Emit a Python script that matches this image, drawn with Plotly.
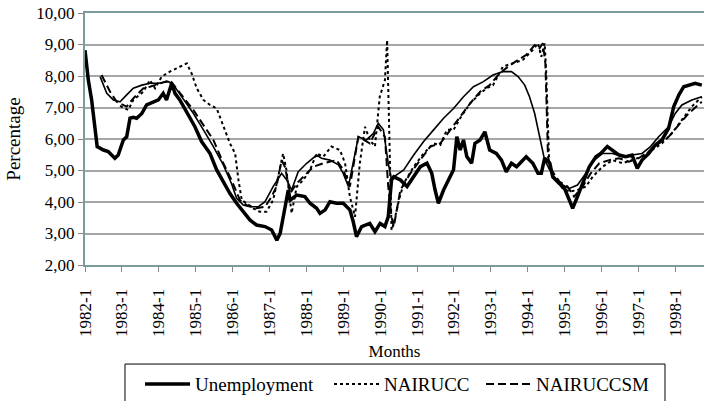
import plotly.graph_objects as go

# ---- data (x in decimal years, values in percent) ----
unemp_x = [1982.00, 1982.09, 1982.18, 1982.27, 1982.33, 1982.50, 1982.63, 1982.81, 1982.90, 1983.04,
           1983.13, 1983.22, 1983.31, 1983.40, 1983.54, 1983.67, 1983.85, 1983.99, 1984.12, 1984.21,
           1984.35, 1984.44, 1984.57, 1984.75, 1984.98, 1985.16, 1985.39, 1985.57, 1985.75, 1985.93,
           1986.11, 1986.29, 1986.47, 1986.65, 1986.88, 1987.06, 1987.20, 1987.29, 1987.38, 1987.51,
           1987.56, 1987.74, 1987.96, 1988.10, 1988.28, 1988.37, 1988.51, 1988.64, 1988.82, 1989.00,
           1989.18, 1989.27, 1989.36, 1989.50, 1989.72, 1989.86, 1990.00, 1990.13, 1990.22, 1990.31,
           1990.37, 1990.55, 1990.73, 1990.91, 1991.09, 1991.27, 1991.40, 1991.49, 1991.58, 1991.72,
           1991.90, 1991.99, 1992.08, 1992.17, 1992.26, 1992.35, 1992.48, 1992.57, 1992.71, 1992.84,
           1992.97, 1993.15, 1993.29, 1993.42, 1993.56, 1993.70, 1993.83, 1993.96, 1994.14, 1994.28,
           1994.37, 1994.46, 1994.60, 1994.68, 1994.86, 1995.00, 1995.13, 1995.22, 1995.35, 1995.49,
           1995.67, 1995.85, 1995.98, 1996.16, 1996.30, 1996.48, 1996.66, 1996.83, 1996.97, 1997.10,
           1997.28, 1997.46, 1997.64, 1997.82, 1997.96, 1998.10, 1998.23, 1998.40, 1998.54, 1998.72]
unemp_y = [8.82, 7.87, 7.24, 6.29, 5.76, 5.65, 5.60, 5.39, 5.49, 5.97,
           6.07, 6.66, 6.69, 6.66, 6.81, 7.08, 7.18, 7.24, 7.45, 7.24,
           7.77, 7.45, 7.24, 6.87, 6.39, 5.92, 5.54, 5.02, 4.65, 4.27,
           3.96, 3.69, 3.43, 3.27, 3.22, 3.11, 2.79, 3.00, 3.53, 4.38,
           4.06, 4.22, 4.17, 3.96, 3.80, 3.64, 3.75, 4.01, 3.96, 3.96,
           3.75, 3.38, 2.90, 3.22, 3.32, 3.06, 3.32, 3.22, 3.53, 4.70,
           4.80, 4.70, 4.49, 4.80, 5.12, 5.23, 4.91, 4.38, 3.96, 4.38,
           4.80, 5.02, 6.07, 5.65, 5.97, 5.44, 5.23, 5.86, 5.97, 6.23,
           5.65, 5.54, 5.33, 4.96, 5.23, 5.12, 5.28, 5.44, 5.23, 4.91,
           4.91, 5.39, 5.23, 4.80, 4.59, 4.43, 4.06, 3.80, 4.17, 4.59,
           5.12, 5.44, 5.54, 5.76, 5.65, 5.49, 5.44, 5.49, 5.07, 5.33,
           5.54, 5.81, 5.97, 6.34, 7.03, 7.40, 7.66, 7.71, 7.77, 7.71]

trend_x = [1982.41, 1982.59, 1982.77, 1982.95, 1983.13, 1983.31, 1983.54, 1983.76, 1983.99, 1984.26,
           1984.40, 1984.66, 1984.94, 1985.21, 1985.48, 1985.75, 1985.97, 1986.11, 1986.29, 1986.47,
           1986.70, 1986.88, 1987.10, 1987.33, 1987.47, 1987.60, 1987.78, 1988.01, 1988.28, 1988.41,
           1988.64, 1988.87, 1989.00, 1989.14, 1989.27, 1989.41, 1989.63, 1989.82, 1989.95, 1990.09,
           1990.22, 1990.31, 1990.37, 1990.64, 1990.91, 1991.18, 1991.45, 1991.72, 1991.99, 1992.26,
           1992.53, 1992.80, 1993.06, 1993.33, 1993.56, 1993.74, 1993.92, 1994.05, 1994.19, 1994.28,
           1994.37, 1994.46, 1994.60, 1994.77, 1994.95, 1995.13, 1995.35, 1995.58, 1995.76, 1996.03,
           1996.30, 1996.57, 1996.83, 1997.10, 1997.33, 1997.55, 1997.82, 1998.00, 1998.18, 1998.45,
           1998.72]
trend_y = [7.98, 7.45, 7.24, 7.18, 7.40, 7.61, 7.71, 7.77, 7.77, 7.82,
           7.71, 7.29, 6.81, 6.29, 5.76, 5.18, 4.59, 4.12, 3.90, 3.85,
           3.85, 4.01, 4.49, 4.91, 4.70, 4.38, 4.96, 5.23, 5.49, 5.39,
           5.33, 5.18, 4.91, 4.49, 5.23, 6.07, 5.97, 6.18, 6.50, 6.29,
           5.23, 4.70, 4.80, 5.02, 5.49, 5.92, 6.29, 6.66, 6.97, 7.34,
           7.66, 7.82, 8.03, 8.14, 8.14, 7.98, 7.71, 7.34, 6.81, 6.29,
           5.76, 5.33, 5.02, 4.70, 4.54, 4.43, 4.54, 4.91, 5.28, 5.54,
           5.54, 5.44, 5.49, 5.54, 5.76, 6.07, 6.39, 6.81, 7.08, 7.24,
           7.34]

nairucc_x = [1982.95, 1983.17, 1983.31, 1983.58, 1983.76, 1983.90, 1984.08, 1984.30, 1984.48, 1984.76,
             1984.89, 1985.03, 1985.21, 1985.39, 1985.57, 1985.66, 1985.79, 1985.93, 1986.07, 1986.16,
             1986.25, 1986.38, 1986.56, 1986.74, 1986.92, 1987.10, 1987.28, 1987.37, 1987.46, 1987.60,
             1987.74, 1987.92, 1988.10, 1988.28, 1988.46, 1988.68, 1988.91, 1989.05, 1989.18, 1989.32,
             1989.45, 1989.59, 1989.72, 1989.86, 1989.99, 1990.13, 1990.19, 1990.27, 1990.31, 1990.37,
             1990.51, 1990.64, 1990.91, 1991.18, 1991.45, 1991.63, 1991.81, 1991.99, 1992.17, 1992.44,
             1992.71, 1992.89, 1993.06, 1993.33, 1993.60, 1993.87, 1994.14, 1994.28, 1994.37, 1994.46,
             1994.50, 1994.55, 1994.59, 1994.77, 1994.95, 1995.13, 1995.35, 1995.58, 1995.76, 1996.03,
             1996.30, 1996.57, 1996.83, 1997.10, 1997.37, 1997.64, 1997.91, 1998.18, 1998.45, 1998.72]
nairucc_y = [7.05, 6.92, 7.24, 7.50, 7.87, 7.61, 7.98, 8.14, 8.24, 8.40,
             8.08, 7.61, 7.24, 7.08, 6.97, 6.71, 6.29, 5.86, 5.54, 4.70,
             4.06, 3.96, 3.80, 3.69, 3.69, 4.06, 5.02, 5.54, 5.02, 3.64,
             4.49, 4.70, 5.02, 5.54, 5.44, 5.76, 5.65, 5.23, 4.17, 3.53,
             5.23, 6.39, 5.97, 5.76, 7.34, 7.87, 9.14, 5.23, 3.11, 3.32,
             4.06, 4.59, 5.12, 5.54, 5.86, 5.81, 6.29, 6.29, 6.66, 7.13,
             7.45, 7.61, 7.71, 8.30, 8.40, 8.51, 8.83, 9.04, 8.61, 9.04,
             8.19, 6.29, 5.02, 4.70, 4.43, 4.33, 4.38, 4.49, 4.80, 5.12,
             5.33, 5.23, 5.33, 5.44, 5.65, 5.86, 6.18, 6.60, 7.03, 7.34]

nairuccsm_x = [1982.45, 1982.68, 1982.86, 1983.13, 1983.31, 1983.58, 1983.76, 1984.03, 1984.30, 1984.44,
               1984.66, 1984.94, 1985.21, 1985.48, 1985.75, 1985.97, 1986.20, 1986.38, 1986.65, 1986.88,
               1987.06, 1987.19, 1987.33, 1987.42, 1987.56, 1987.74, 1987.92, 1988.19, 1988.46, 1988.82,
               1989.00, 1989.18, 1989.41, 1989.72, 1989.95, 1990.13, 1990.22, 1990.31, 1990.37, 1990.55,
               1990.82, 1991.09, 1991.36, 1991.63, 1991.90, 1992.17, 1992.44, 1992.71, 1992.97, 1993.24,
               1993.47, 1993.74, 1993.96, 1994.19, 1994.32, 1994.41, 1994.48, 1994.52, 1994.55, 1994.64,
               1994.86, 1995.08, 1995.26, 1995.49, 1995.71, 1995.94, 1996.21, 1996.48, 1996.75, 1997.01,
               1997.28, 1997.55, 1997.82, 1998.09, 1998.36, 1998.72]
nairuccsm_y = [8.03, 7.50, 7.18, 7.03, 7.29, 7.61, 7.66, 7.77, 7.87, 7.66,
               7.34, 6.92, 6.44, 5.97, 5.23, 4.70, 4.06, 3.90, 3.80, 3.85,
               4.17, 4.49, 5.33, 5.12, 4.27, 4.59, 4.80, 5.12, 5.23, 5.33,
               5.02, 4.49, 6.07, 5.86, 6.39, 6.07, 4.49, 3.53, 3.22, 4.38,
               4.91, 5.33, 5.76, 5.86, 6.29, 6.71, 7.13, 7.50, 7.71, 8.08,
               8.30, 8.51, 8.67, 8.98, 8.88, 9.04, 8.40, 6.81, 5.44, 5.02,
               4.65, 4.49, 4.17, 4.49, 4.91, 5.23, 5.33, 5.39, 5.28, 5.39,
               5.60, 5.86, 6.07, 6.44, 6.81, 7.18]

tick_years = list(range(1982, 1999))
tick_labels = [f"{y}-1" for y in tick_years]
y_ticks = [2, 3, 4, 5, 6, 7, 8, 9, 10]
y_tick_labels = ["2,00", "3,00", "4,00", "5,00", "6,00", "7,00", "8,00", "9,00", "10,00"]

FONT = "Liberation Serif"
AXIS_COLOR = "#7a9c9c"

fig = go.Figure()
fig.add_trace(go.Scatter(x=trend_x, y=trend_y, mode="lines", name="Trend", showlegend=False,
                         line=dict(color="black", width=1.6)))
fig.add_trace(go.Scatter(x=nairucc_x, y=nairucc_y, mode="lines", name="NAIRUCC", legend="legend2",
                         line=dict(color="black", width=2, dash="3px,3px")))
fig.add_trace(go.Scatter(x=nairuccsm_x, y=nairuccsm_y, mode="lines", name="NAIRUCCSM", legend="legend3",
                         line=dict(color="black", width=2, dash="8px,4px")))
fig.add_trace(go.Scatter(x=unemp_x, y=unemp_y, mode="lines", name="Unemployment", legend="legend",
                         line=dict(color="black", width=3.5)))

leg_common = dict(orientation="h", xanchor="left", y=-0.397, yanchor="top",
                  bgcolor="rgba(0,0,0,0)", borderwidth=0,
                  font=dict(family=FONT, size=19), itemwidth=45)

fig.update_layout(
    width=704, height=401,
    margin=dict(l=85, r=0, t=13, b=136, autoexpand=False),
    paper_bgcolor="white", plot_bgcolor="white",
    font=dict(family=FONT, size=17, color="black"),
    legend=dict(x=0.0889, **leg_common),
    legend2=dict(x=0.3942, **leg_common),
    legend3=dict(x=0.6398, **leg_common),
    shapes=[dict(type="rect", xref="paper", yref="paper", x0=0.0646, x1=0.937,
                 y0=-0.393, y1=-0.58, line=dict(color="black", width=1), fillcolor="rgba(0,0,0,0)",
                 layer="below")],
)

fig.update_xaxes(range=[1982, 1998.78], tickmode="array", tickvals=tick_years, ticktext=tick_labels,
                 tickangle=-90, showgrid=False, showline=True, linecolor=AXIS_COLOR, linewidth=2,
                 mirror=True, ticks="outside", ticklen=5, tickcolor="#888888", automargin=False,
                 ticklabelstandoff=10,
                 tickfont=dict(family=FONT, size=17),
                 title=dict(text="Months", font=dict(family=FONT, size=17), standoff=9),
                 zeroline=False)
fig.update_yaxes(range=[2, 10], tickmode="array", tickvals=y_ticks, ticktext=y_tick_labels,
                 showgrid=True, gridcolor="#a6a6a6", gridwidth=2,
                 showline=True, linecolor=AXIS_COLOR, linewidth=2, automargin=False,
                 ticks="outside", ticklen=5, tickcolor="#888888", ticklabeloverflow="allow",
                 tickfont=dict(family=FONT, size=17),
                 title=dict(text="Percentage", font=dict(family=FONT, size=19), standoff=11),
                 zeroline=False)

fig.write_html("out.html", config={"displayModeBar": False},
               post_script="document.body.style.margin='0px';")
